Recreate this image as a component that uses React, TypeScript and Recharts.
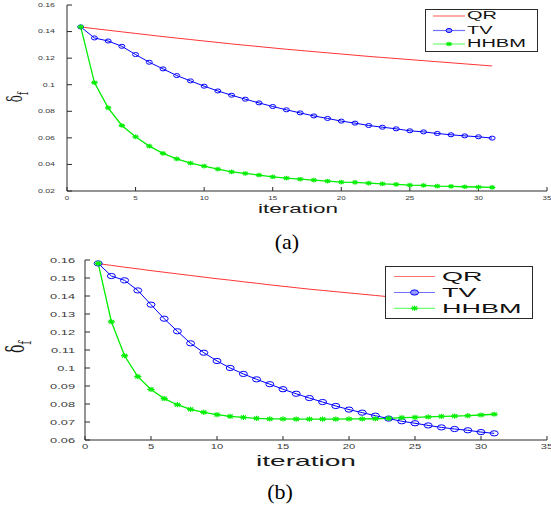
import React from 'react';
import { LineChart, Line, XAxis, YAxis, Legend, Label } from 'recharts';

// iteration index shared by both panels
const iterations = [
  1, 2, 3, 4, 5, 6, 7, 8, 9, 10, 11, 12, 13, 14, 15, 16,
  17, 18, 19, 20, 21, 22, 23, 24, 25, 26, 27, 28, 29, 30, 31,
];

// panel (a)
const qrA = [
  0.1435, 0.1422, 0.141, 0.1398, 0.1386, 0.1374, 0.1362, 0.1351, 0.134, 0.1329, 0.1318,
  0.1307, 0.1297, 0.1287, 0.1277, 0.1267, 0.1258, 0.1249, 0.124, 0.1231, 0.1222, 0.1213,
  0.1205, 0.1197, 0.1189, 0.1181, 0.1173, 0.1165, 0.1157, 0.1149, 0.1141,
];
const tvA = [
  0.1435, 0.1352, 0.1329, 0.1289, 0.1227, 0.1169, 0.1119, 0.1069, 0.1029, 0.0989, 0.0953,
  0.0921, 0.0891, 0.0863, 0.0836, 0.0811, 0.0788, 0.0765, 0.0746, 0.0726, 0.0711, 0.0693,
  0.068, 0.0668, 0.0653, 0.0645, 0.0633, 0.0623, 0.0615, 0.0608, 0.0598,
];
const hhbmA = [
  0.1435, 0.1016, 0.0826, 0.0693, 0.0608, 0.0538, 0.0483, 0.0442, 0.041, 0.0387, 0.0365,
  0.0344, 0.0332, 0.032, 0.0307, 0.0297, 0.0289, 0.0282, 0.0274, 0.0267, 0.0265, 0.0259,
  0.0254, 0.025, 0.0244, 0.0242, 0.0237, 0.0235, 0.0232, 0.023, 0.0227,
];

// panel (b)
const qrB = [
  0.158, 0.157, 0.156, 0.1551, 0.1541, 0.1532, 0.1523, 0.1514, 0.1505, 0.1496, 0.1488,
  0.1479, 0.1471, 0.1462, 0.1454, 0.1446, 0.1438, 0.1431, 0.1424, 0.1417, 0.141, 0.1403,
  0.1396, 0.139, 0.1384, 0.1377, 0.1371, 0.1365, 0.1359, 0.1353, 0.1347,
];
const tvB = [
  0.1581, 0.1511, 0.1487, 0.1431, 0.1352, 0.1274, 0.1204, 0.1137, 0.1085, 0.1039, 0.1,
  0.0967, 0.0937, 0.091, 0.0882, 0.0857, 0.0833, 0.0811, 0.0789, 0.0769, 0.0752, 0.0735,
  0.0719, 0.0704, 0.0693, 0.0681, 0.067, 0.0661, 0.0654, 0.0644, 0.0637,
];
const hhbmB = [
  0.1581, 0.1257, 0.1068, 0.0952, 0.0881, 0.083, 0.0796, 0.077, 0.0754, 0.0741, 0.0731,
  0.0726, 0.072, 0.0717, 0.0717, 0.0716, 0.0716, 0.0716, 0.0716, 0.0717, 0.0717, 0.0718,
  0.072, 0.0724, 0.0726, 0.0728, 0.0731, 0.0733, 0.0735, 0.0739, 0.0743,
];

const xTicks = [0, 5, 10, 15, 20, 25, 30, 35];
const yTicksA = [0.02, 0.04, 0.06, 0.08, 0.1, 0.12, 0.14, 0.16];
const yTicksB = [0.06, 0.07, 0.08, 0.09, 0.1, 0.11, 0.12, 0.13, 0.14, 0.15, 0.16];

const seriesNames = ['QR', 'TV', 'HHBM'];
const seriesColors = ['#ff0000', '#0000ff', '#00ee00'];
const legendColors = ['#ff7070', '#7070ff', '#70ff70'];

const SANS = '"Liberation Sans", Arial, Helvetica, sans-serif';
const STRETCH = 1.6;
const AXIS = '#2a2a2a';

const buildRows = (qr: number[], tv: number[], hhbm: number[]) =>
  iterations.map((it, i) => ({ it, qr: qr[i], tv: tv[i], hhbm: hhbm[i] }));

const circleDot = (rx: number, ry: number, color: string) => (p: any) => (
  <ellipse
    key={`c-${p.index}`}
    cx={p.cx}
    cy={p.cy}
    rx={rx}
    ry={ry}
    fill="none"
    stroke={color}
    strokeWidth={1}
  />
);

const Star = ({ cx, cy, w, h, color }: any) => (
  <g stroke={color} strokeWidth={1.2}>
    <line x1={cx - w} y1={cy} x2={cx + w} y2={cy} />
    <line x1={cx} y1={cy - h} x2={cx} y2={cy + h} />
    <line x1={cx - w * 0.7} y1={cy - h * 0.7} x2={cx + w * 0.7} y2={cy + h * 0.7} />
    <line x1={cx - w * 0.7} y1={cy + h * 0.7} x2={cx + w * 0.7} y2={cy - h * 0.7} />
  </g>
);

const starDot = (w: number, h: number, color: string) => (p: any) => (
  <Star key={`s-${p.index}`} cx={p.cx} cy={p.cy} w={w} h={h} color={color} />
);

// stretched tick label, the original figure is widened horizontally
const makeTick = (fontSize: number, anchor: 'end' | 'middle', dx: number, dy: number) => (props: any) => {
  const { x, y, payload } = props;
  return (
    <g transform={`translate(${x + dx},${y + dy}) scale(${STRETCH},1)`}>
      <text
        textAnchor={anchor}
        dominantBaseline="central"
        fontSize={fontSize}
        fontFamily={SANS}
        fill="#3a3a3a"
      >
        {payload.value}
      </text>
    </g>
  );
};

type PanelCfg = {
  rows: any[];
  yTicks: number[];
  top: number;
  marginTop: number;
  yAxisWidth: number;
  xAxisHeight: number;
  yTickFont: number;
  yTickDx: number;
  xTickFont: number;
  xTickDy: number;
  titleFont: number;
  titleLen: number;
  titleDx: number;
  titleDy: number;
  deltaFont: number;
  deltaX: number;
  deltaY: number;
  ellipse: [number, number];
  star: [number, number];
  legend: {
    left: number;
    top: number;
    width: number;
    height: number;
    rowY: number[];
    lineX: [number, number];
    textX: number;
    font: number;
  };
};

const Panel = ({ cfg }: { cfg: PanelCfg }) => {
  const lg = cfg.legend;

  const renderLegend = (props: any) => {
    const payload = [...(props.payload || [])].sort(
      (a: any, b: any) => seriesNames.indexOf(a.value) - seriesNames.indexOf(b.value)
    );
    return (
      <svg width={lg.width} height={lg.height} style={{ display: 'block' }}>
        <rect x={0.5} y={0.5} width={lg.width - 1} height={lg.height - 1} fill="#fff" stroke={AXIS} />
        {payload.map((entry: any, i: number) => {
          const idx = seriesNames.indexOf(entry.value);
          const y = lg.rowY[i];
          const mid = (lg.lineX[0] + lg.lineX[1]) / 2;
          return (
            <g key={entry.value}>
              <line x1={lg.lineX[0]} y1={y} x2={lg.lineX[1]} y2={y} stroke={legendColors[idx]} strokeWidth={1.2} />
              {idx === 1 && (
                <ellipse cx={mid} cy={y} rx={cfg.ellipse[0]} ry={cfg.ellipse[1]} fill="#9a9aff" stroke={seriesColors[1]} />
              )}
              {idx === 2 && <Star cx={mid} cy={y} w={cfg.star[0]} h={cfg.star[1]} color={seriesColors[2]} />}
              <g transform={`translate(${lg.textX},${y}) scale(2,1)`}>
                <text dominantBaseline="central" fontSize={lg.font} fontFamily={SANS} fill="#111">
                  {entry.value}
                </text>
              </g>
            </g>
          );
        })}
      </svg>
    );
  };

  return (
    <div style={{ position: 'absolute', left: 0, top: cfg.top }}>
      <LineChart
        width={551}
        height={232}
        data={cfg.rows}
        margin={{ top: cfg.marginTop, right: 4, left: 0, bottom: 0 }}
      >
        <XAxis
          dataKey="it"
          type="number"
          domain={[0, 35]}
          ticks={xTicks}
          interval={0}
          height={cfg.xAxisHeight}
          stroke={AXIS}
          tickSize={-4}
          tickMargin={0}
          tick={makeTick(cfg.xTickFont, 'middle', 0, cfg.xTickDy)}
        >
          <Label
            content={(p: any) => {
              const vb = p.viewBox;
              return (
                <text
                  x={vb.x + vb.width / 2 + cfg.titleDx}
                  y={vb.y + cfg.titleDy}
                  textAnchor="middle"
                  fontSize={cfg.titleFont}
                  fontFamily={SANS}
                  textLength={cfg.titleLen}
                  lengthAdjust="spacingAndGlyphs"
                  fill="#1a1a1a"
                >
                  iteration
                </text>
              );
            }}
          />
        </XAxis>
        <XAxis
          xAxisId="top"
          orientation="top"
          type="number"
          domain={[0, 35]}
          ticks={xTicks}
          interval={0}
          height={0}
          stroke={AXIS}
          tickSize={-4}
          tick={false}
        />
        <YAxis
          type="number"
          domain={[cfg.yTicks[0], cfg.yTicks[cfg.yTicks.length - 1]]}
          ticks={cfg.yTicks}
          interval={0}
          width={cfg.yAxisWidth}
          stroke={AXIS}
          tickSize={-5}
          tickMargin={0}
          tick={makeTick(cfg.yTickFont, 'end', cfg.yTickDx, 0)}
        >
          <Label
            content={() => (
              <g transform={`translate(${cfg.deltaX},${cfg.deltaY}) scale(1.7,1) rotate(-90)`}>
                <text textAnchor="middle" fontSize={cfg.deltaFont} fontFamily='"DejaVu Serif", serif' fill="#1a1a1a">
                  δ
                  <tspan fontSize={cfg.deltaFont * 0.7} dy={cfg.deltaFont * 0.3}>
                    f
                  </tspan>
                </text>
              </g>
            )}
          />
        </YAxis>
        <YAxis
          yAxisId="right"
          orientation="right"
          type="number"
          domain={[cfg.yTicks[0], cfg.yTicks[cfg.yTicks.length - 1]]}
          ticks={cfg.yTicks}
          interval={0}
          width={0}
          stroke={AXIS}
          tickSize={-5}
          tick={false}
        />
        <Legend
          layout="vertical"
          align="center"
          verticalAlign="middle"
          content={renderLegend}
          wrapperStyle={{ position: 'absolute', left: lg.left, top: lg.top, width: lg.width, height: lg.height }}
        />
        <Line
          name={seriesNames[0]}
          dataKey="qr"
          stroke={seriesColors[0]}
          strokeWidth={0.8}
          dot={false}
          isAnimationActive={false}
        />
        <Line
          name={seriesNames[1]}
          dataKey="tv"
          stroke={seriesColors[1]}
          strokeWidth={1}
          dot={circleDot(cfg.ellipse[0], cfg.ellipse[1], seriesColors[1])}
          isAnimationActive={false}
        />
        <Line
          name={seriesNames[2]}
          dataKey="hhbm"
          stroke={seriesColors[2]}
          strokeWidth={1.3}
          dot={starDot(cfg.star[0], cfg.star[1], seriesColors[2])}
          isAnimationActive={false}
        />
      </LineChart>
    </div>
  );
};

const panelA: PanelCfg = {
  rows: buildRows(qrA, tvA, hhbmA),
  yTicks: yTicksA,
  top: 0,
  marginTop: 5,
  yAxisWidth: 67,
  xAxisHeight: 41,
  yTickFont: 5.5,
  yTickDx: -17,
  xTickFont: 5,
  xTickDy: 11,
  titleFont: 12.5,
  titleLen: 80,
  titleDx: -9,
  titleDy: 21.5,
  deltaFont: 12,
  deltaX: 22,
  deltaY: 97,
  ellipse: [3, 2],
  star: [3.2, 2.3],
  legend: {
    left: 425,
    top: 9,
    width: 113,
    height: 43,
    rowY: [7, 21.5, 35],
    lineX: [8, 40],
    textX: 42,
    font: 10,
  },
};

const panelB: PanelCfg = {
  rows: buildRows(qrB, tvB, hhbmB),
  yTicks: yTicksB,
  top: 250,
  marginTop: 10,
  yAxisWidth: 85,
  xAxisHeight: 42,
  yTickFont: 8,
  yTickDx: -15,
  xTickFont: 7,
  xTickDy: 10.5,
  titleFont: 15,
  titleLen: 100,
  titleDx: -10,
  titleDy: 26,
  deltaFont: 14,
  deltaX: 24,
  deltaY: 97,
  ellipse: [4, 2.6],
  star: [3.6, 2.6],
  legend: {
    left: 385,
    top: 16,
    width: 148,
    height: 53,
    rowY: [10.5, 26.5, 42.3],
    lineX: [9, 50],
    textX: 57,
    font: 13.5,
  },
};

const captionStyle = (left: number, top: number): React.CSSProperties => ({
  position: 'absolute',
  left: left - 50,
  top,
  width: 100,
  textAlign: 'center',
  fontFamily: '"Liberation Serif", "Times New Roman", serif',
  fontSize: 22,
  lineHeight: '22px',
  color: '#000',
});

export default function App() {
  return (
    <div style={{ position: 'absolute', left: 0, top: 0, width: 551, height: 509, background: '#fff' }}>
      <Panel cfg={panelA} />
      <div style={captionStyle(287, 230.6)}>(a)</div>
      <Panel cfg={panelB} />
      <div style={captionStyle(280, 480.6)}>(b)</div>
    </div>
  );
}
